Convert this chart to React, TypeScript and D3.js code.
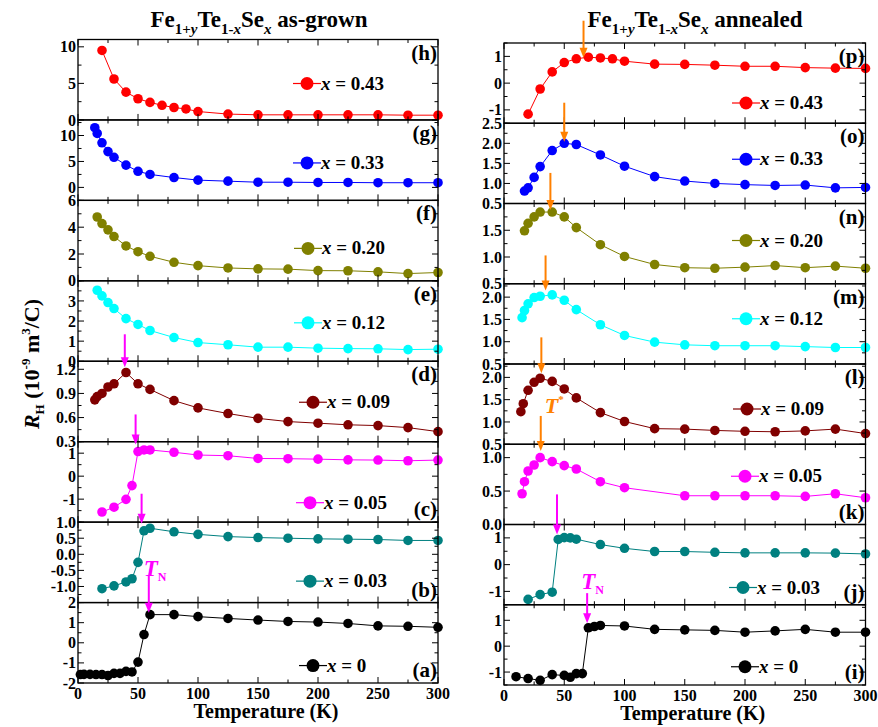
import React from "react";
import * as d3 from "d3";

const FONT = "\"Liberation Serif\", \"Times New Roman\", Tinos, \"Nimbus Roman\", Times, serif";

// ---------- as-grown (left column) ----------
const tempA = [2, 5, 10, 15, 20, 25, 30, 35, 40, 45, 50, 55, 60, 80, 100, 125, 150, 175, 200, 225, 250, 275, 300];
const rhA = [-1.58, -1.57, -1.57, -1.58, -1.58, -1.63, -1.52, -1.52, -1.42, -1.45, -0.96, 0.41, 1.4, 1.4, 1.3, 1.21, 1.13, 1.06, 1.03, 0.96, 0.84, 0.82, 0.77];
const tempB = [20, 30, 40, 45, 50, 55, 60, 80, 100, 125, 150, 175, 200, 225, 250, 275, 300];
const rhB = [-1.07, -0.98, -0.86, -0.76, -0.25, 0.73, 0.81, 0.7, 0.62, 0.55, 0.52, 0.5, 0.48, 0.47, 0.46, 0.43, 0.43];
const tempC = [20, 30, 40, 45, 50, 55, 60, 80, 100, 125, 150, 175, 200, 225, 250, 275, 300];
const rhC = [-1.56, -1.35, -1.01, -0.41, 1.07, 1.14, 1.14, 1.04, 0.92, 0.89, 0.77, 0.76, 0.74, 0.71, 0.7, 0.67, 0.7];
const tempD = [14, 16, 20, 25, 30, 40, 50, 60, 80, 100, 125, 150, 175, 200, 225, 250, 275, 300];
const rhD = [0.82, 0.86, 0.9, 0.98, 1.02, 1.16, 1.02, 0.95, 0.81, 0.72, 0.65, 0.59, 0.55, 0.53, 0.51, 0.5, 0.475, 0.425];
const tempE = [16, 20, 25, 30, 40, 50, 60, 80, 100, 125, 150, 175, 200, 225, 250, 275, 300];
const rhE = [3.53, 3.25, 2.92, 2.62, 2.12, 1.83, 1.53, 1.18, 0.93, 0.82, 0.7, 0.7, 0.65, 0.63, 0.62, 0.58, 0.6];
const tempF = [16, 20, 25, 30, 40, 50, 60, 80, 100, 125, 150, 175, 200, 225, 250, 275, 300];
const rhF = [4.76, 4.27, 3.8, 3.3, 2.6, 2.17, 1.83, 1.38, 1.13, 0.96, 0.89, 0.87, 0.76, 0.75, 0.67, 0.54, 0.62];
const tempG = [14, 16, 20, 25, 30, 40, 50, 60, 80, 100, 125, 150, 175, 200, 225, 250, 275, 300];
const rhG = [11.5, 10.4, 8.6, 6.9, 5.8, 4.3, 3.1, 2.5, 1.9, 1.4, 1.2, 1.0, 1.0, 0.95, 0.95, 0.9, 0.9, 0.9];
const tempH = [20, 30, 40, 50, 60, 70, 80, 90, 100, 125, 150, 175, 200, 225, 250, 275, 300];
const rhH = [9.5, 5.6, 3.8, 2.9, 2.4, 2.0, 1.7, 1.5, 1.15, 0.8, 0.7, 0.7, 0.7, 0.7, 0.7, 0.65, 0.65];

// ---------- annealed (right column) ----------
const tempI = [10, 20, 30, 40, 50, 55, 60, 65, 70, 75, 80, 100, 125, 150, 175, 200, 225, 250, 275, 300];
const rhI = [-1.18, -1.25, -1.32, -1.1, -1.13, -1.2, -1.06, -1.06, 0.71, 0.76, 0.8, 0.78, 0.65, 0.63, 0.61, 0.54, 0.59, 0.65, 0.54, 0.54];
const tempJ = [20, 30, 40, 45, 50, 55, 60, 80, 100, 125, 150, 175, 200, 225, 250, 275, 300];
const rhJ = [-1.3, -1.12, -1.03, 0.94, 1.01, 1.0, 0.95, 0.75, 0.61, 0.49, 0.49, 0.46, 0.44, 0.44, 0.44, 0.43, 0.4];
const tempK = [15, 17, 20, 25, 30, 40, 50, 60, 80, 100, 150, 175, 200, 225, 250, 275, 300];
const rhK = [0.46, 0.64, 0.8, 0.89, 1.0, 0.94, 0.88, 0.83, 0.64, 0.55, 0.43, 0.43, 0.43, 0.43, 0.42, 0.46, 0.4];
const tempL = [14, 16, 20, 25, 30, 40, 50, 60, 80, 100, 125, 150, 175, 200, 225, 250, 275, 300];
const rhL = [1.23, 1.41, 1.71, 1.89, 1.98, 1.91, 1.74, 1.54, 1.21, 1.01, 0.85, 0.84, 0.81, 0.79, 0.78, 0.8, 0.84, 0.74];
const tempM = [15, 17, 20, 25, 30, 40, 50, 60, 80, 100, 125, 150, 175, 200, 225, 250, 275, 300];
const rhM = [1.54, 1.7, 1.85, 1.99, 2.02, 2.05, 1.93, 1.72, 1.38, 1.14, 0.99, 0.93, 0.91, 0.91, 0.91, 0.89, 0.87, 0.87];
const tempN = [17, 20, 25, 30, 40, 50, 60, 80, 100, 125, 150, 175, 200, 225, 250, 275, 300];
const rhN = [1.49, 1.63, 1.75, 1.84, 1.84, 1.75, 1.55, 1.23, 1.01, 0.86, 0.8, 0.79, 0.81, 0.84, 0.8, 0.83, 0.79];
const tempO = [17, 20, 25, 30, 40, 50, 60, 80, 100, 125, 150, 175, 200, 225, 250, 275, 300];
const rhO = [0.81, 0.89, 1.15, 1.42, 1.82, 2.0, 1.97, 1.71, 1.43, 1.17, 1.06, 1.0, 0.97, 0.95, 0.96, 0.89, 0.9];
const tempP = [20, 30, 40, 50, 60, 70, 80, 90, 100, 125, 150, 175, 200, 225, 250, 275, 300];
const rhP = [-1.16, -0.22, 0.42, 0.77, 0.91, 0.97, 0.94, 0.91, 0.82, 0.71, 0.7, 0.67, 0.63, 0.63, 0.58, 0.56, 0.55];

const xTicks = [0, 50, 100, 150, 200, 250, 300];

const MAG = "#ff00ff";
const ORG = "#ff8000";

type Arrow = { T: number; tip: number; len: number; color: string; note?: "TN" | "TS" };
type Panel = {
  T: number[]; R: number[]; color: string; domain: [number, number]; ticks: number[];
  dec: number; x: string; letter: string; bottomLetter?: boolean; legDy: number; legDx?: number; arrow?: Arrow;
};

const leftPanels: Panel[] = [
  { T: tempH, R: rhH, color: "#ff0000", domain: [0, 11], ticks: [0, 5, 10], dec: 0, x: "0.43", letter: "(h)", legDy: 44, legDx: -2 },
  { T: tempG, R: rhG, color: "#0000ff", domain: [-2.5, 13], ticks: [0, 5, 10], dec: 0, x: "0.33", letter: "(g)", legDy: 43, legDx: -2 },
  { T: tempF, R: rhF, color: "#808000", domain: [0, 6], ticks: [0, 2, 4, 6], dec: 0, x: "0.20", letter: "(f)", legDy: 48, legDx: -1 },
  { T: tempE, R: rhE, color: "#00ffff", domain: [0, 4], ticks: [0, 1, 2, 3], dec: 0, x: "0.12", letter: "(e)", legDy: 42, legDx: -1 },
  { T: tempD, R: rhD, color: "#800000", domain: [0.3, 1.3], ticks: [0.3, 0.6, 0.9, 1.2], dec: 1, x: "0.09", letter: "(d)", legDy: 41, legDx: 4,
    arrow: { T: 39, tip: 1.225, len: 33, color: MAG } },
  { T: tempC, R: rhC, color: "#ff00ff", domain: [-2, 1.5], ticks: [-1, 0, 1], dec: 0, x: "0.05", letter: "(c)", bottomLetter: true, legDy: 61, legDx: 1,
    arrow: { T: 48, tip: 1.38, len: 30, color: MAG } },
  { T: tempB, R: rhB, color: "#008080", domain: [-1.5, 1.0], ticks: [-1, -0.5, 0, 0.5, 1], dec: 1, x: "0.03", letter: "(b)", bottomLetter: true, legDy: 59, legDx: 1,
    arrow: { T: 53, tip: 0.95, len: 30, color: MAG } },
  { T: tempA, R: rhA, color: "#000000", domain: [-2, 2], ticks: [-2, -1, 0, 1, 2], dec: 0, x: "0", letter: "(a)", bottomLetter: true, legDy: 63, legDx: 4,
    arrow: { T: 59, tip: 1.49, len: 37, color: MAG, note: "TN" } },
];

const rightPanels: Panel[] = [
  { T: tempP, R: rhP, color: "#ff0000", domain: [-1.5, 1.5], ticks: [-1, 0, 1], dec: 0, x: "0.43", letter: "(p)", legDy: 60,
    arrow: { T: 66, tip: 0.95, len: 37, color: ORG } },
  { T: tempO, R: rhO, color: "#0000ff", domain: [0.5, 2.5], ticks: [0.5, 1, 1.5, 2, 2.5], dec: 1, x: "0.33", letter: "(o)", legDy: 36,
    arrow: { T: 50, tip: 2.04, len: 39, color: ORG } },
  { T: tempN, R: rhN, color: "#808000", domain: [0.5, 2.0], ticks: [0.5, 1, 1.5], dec: 1, x: "0.20", letter: "(n)", legDy: 37,
    arrow: { T: 38.5, tip: 1.88, len: 37, color: ORG } },
  { T: tempM, R: rhM, color: "#00ffff", domain: [0.5, 2.3], ticks: [0.5, 1, 1.5, 2], dec: 1, x: "0.12", letter: "(m)", legDy: 35,
    arrow: { T: 34.5, tip: 2.15, len: 35, color: ORG } },
  { T: tempL, R: rhL, color: "#800000", domain: [0.5, 2.3], ticks: [0.5, 1, 1.5, 2], dec: 1, x: "0.09", letter: "(l)", legDy: 45, legDx: 1,
    arrow: { T: 31, tip: 2.09, len: 36, color: ORG } },
  { T: tempK, R: rhK, color: "#ff00ff", domain: [0, 1.2], ticks: [0, 0.5, 1], dec: 1, x: "0.05", letter: "(k)", bottomLetter: true, legDy: 32, legDx: -1,
    arrow: { T: 30.5, tip: 1.1, len: 35, color: ORG, note: "TS" } },
  { T: tempJ, R: rhJ, color: "#008080", domain: [-1.5, 1.5], ticks: [-1, 0, 1], dec: 0, x: "0.03", letter: "(j)", bottomLetter: true, legDy: 63, legDx: -3,
    arrow: { T: 44, tip: 1.13, len: 40, color: MAG } },
  { T: tempI, R: rhI, color: "#000000", domain: [-1.5, 1.6], ticks: [-1, 0, 1], dec: 0, x: "0", letter: "(i)", bottomLetter: true, legDy: 62, legDx: -1,
    arrow: { T: 69, tip: 0.89, len: 30, color: MAG, note: "TN" } },
];

type Col = { x0: number; x1: number; top: number; bottom: number; legX: number; panels: Panel[]; kind: string; titleX: number };

const columns: Col[] = [
  { x0: 78, x1: 438, top: 39.5, bottom: 683, legX: 309, panels: leftPanels, kind: "as-grown", titleX: 259 },
  { x0: 504, x1: 865.5, top: 43, bottom: 685, legX: 746, panels: rightPanels, kind: "annealed", titleX: 695 },
];

const ArrowMark = ({ x, y, len, color }: { x: number; y: number; len: number; color: string }) => (
  <g>
    <line x1={x} x2={x} y1={y - len} y2={y - 8} stroke={color} strokeWidth={2} />
    <path d={`M${x - 4},${y - 10}L${x + 4},${y - 10}L${x},${y}Z`} fill={color} />
  </g>
);

const Column = ({ col }: { col: Col }) => {
  const x = d3.scaleLinear().domain([0, 300]).range([col.x0, col.x1]);
  const ph = (col.bottom - col.top) / col.panels.length;
  const minorX = d3.range(0, 301, 25);
  return (
    <g>
      {col.panels.map((p, i) => {
        const top = col.top + i * ph;
        const bot = top + ph;
        const y = d3.scaleLinear().domain(p.domain).range([bot, top]);
        const step = p.ticks[1] - p.ticks[0];
        const half = step / 2;
        const minorY = d3
          .range(Math.ceil(p.domain[0] / half - 1e-6), Math.floor(p.domain[1] / half + 1e-6) + 1)
          .map((k) => k * half);
        const line = d3
          .line<number>()
          .x((_, k) => x(p.T[k]))
          .y((v) => y(v));
        const isLast = i === col.panels.length - 1;
        const a = p.arrow;
        const lx = col.legX + (p.legDx || 0);
        return (
          <g key={p.letter}>
            {/* data */}
            <path d={line(p.R) || ""} fill="none" stroke={p.color} strokeWidth={1} />
            {p.R.map((v, k) => (
              <circle key={k} cx={x(p.T[k])} cy={y(v)} r={4.8} fill={p.color} />
            ))}
            {/* frame */}
            <rect x={col.x0} y={top} width={col.x1 - col.x0} height={bot - top} fill="none" stroke="#000" strokeWidth={1.3} />
            {minorX.map((t) => {
              const L = t % 50 === 0 ? 6 : 3.5;
              return (
                <g key={"x" + t}>
                  <line x1={x(t)} x2={x(t)} y1={bot} y2={bot - L} stroke="#000" strokeWidth={1} />
                  <line x1={x(t)} x2={x(t)} y1={top} y2={top + L} stroke="#000" strokeWidth={1} />
                </g>
              );
            })}
            {minorY.map((v) => {
              const major = p.ticks.some((t) => Math.abs(t - v) < 1e-6);
              const L = major ? 6 : 3.5;
              return (
                <g key={"y" + v}>
                  <line x1={col.x0} x2={col.x0 + L} y1={y(v)} y2={y(v)} stroke="#000" strokeWidth={1} />
                  <line x1={col.x1} x2={col.x1 - L} y1={y(v)} y2={y(v)} stroke="#000" strokeWidth={1} />
                </g>
              );
            })}
            {p.ticks.map((t) => (
              <text key={"l" + t} x={col.x0 - 2} y={y(t)} dy="0.35em" textAnchor="end" fontSize={16} fontWeight="bold">
                {t.toFixed(p.dec)}
              </text>
            ))}
            {/* panel letter */}
            <text x={col.x1 - 1} y={p.bottomLetter ? bot - 6 : top + 20} textAnchor="end" fontSize={21} fontWeight="bold">
              {p.letter}
            </text>
            {/* legend */}
            <line x1={lx - 14} x2={lx + 14} y1={top + p.legDy} y2={top + p.legDy} stroke={p.color} strokeWidth={1.2} />
            <circle cx={lx} cy={top + p.legDy} r={6.5} fill={p.color} />
            <text x={lx + 14} y={top + p.legDy + 6} fontSize={19} fontWeight="bold">
              <tspan fontStyle="italic">x</tspan> = {p.x}
            </text>
            {/* arrow */}
            {a && <ArrowMark x={x(a.T)} y={y(a.tip)} len={a.len} color={a.color} />}
            {a && a.note === "TN" && (
              <text
                x={x(a.T) + (col.kind === "as-grown" ? -5 : -6)}
                y={y(a.tip) - a.len + (col.kind === "as-grown" ? 0 : -4)}
                fill={MAG}
                fontWeight="bold"
                fontSize={23}
              >
                <tspan fontStyle="italic">T</tspan>
                <tspan fontSize={12} dy={5}>N</tspan>
              </text>
            )}
            {a && a.note === "TS" && (
              <text x={x(a.T) + 4} y={y(a.tip) - a.len - 3} fill={ORG} fontWeight="bold" fontSize={22}>
                <tspan fontStyle="italic">T</tspan>
                <tspan fontSize={11} dy={-10}>*</tspan>
              </text>
            )}
            {/* bottom axis labels */}
            {isLast &&
              xTicks.map((t) => (
                <text key={"xl" + t} x={x(t)} y={bot + 16} textAnchor="middle" fontSize={16} fontWeight="bold">
                  {t}
                </text>
              ))}
          </g>
        );
      })}
      {/* title */}
      <text x={col.titleX} y={27} textAnchor="middle" fontSize={23} fontWeight="bold">
        Fe
        <tspan fontSize={15} dy={7}>1+</tspan>
        <tspan fontSize={15} fontStyle="italic">y</tspan>
        <tspan dy={-7}>Te</tspan>
        <tspan fontSize={15} dy={7}>1-</tspan>
        <tspan fontSize={15} fontStyle="italic">x</tspan>
        <tspan dy={-7}>Se</tspan>
        <tspan fontSize={15} fontStyle="italic" dy={7}>x</tspan>
        <tspan dy={-7}>{" " + col.kind}</tspan>
      </text>
      <text x={(col.x0 + col.x1) / 2 + 8} y={col.bottom + 35} textAnchor="middle" fontSize={20} fontWeight="bold">
        Temperature (K)
      </text>
    </g>
  );
};

export default function App() {
  return (
    <svg
      width={878}
      height={727}
      style={{ position: "absolute", left: 0, top: 0, background: "#fff", fontFamily: FONT }}
    >
      <rect width={878} height={727} fill="#fff" />
      {columns.map((c) => (
        <Column key={c.kind} col={c} />
      ))}
      <g transform="translate(39,364) rotate(-90)">
        <text textAnchor="middle" fontSize={22} fontWeight="bold">
          <tspan fontStyle="italic">R</tspan>
          <tspan fontSize={13} dy={5}>H</tspan>
          <tspan dy={-5}> (10</tspan>
          <tspan fontSize={13} dy={-9}>-9</tspan>
          <tspan dy={9}> m</tspan>
          <tspan fontSize={13} dy={-9}>3</tspan>
          <tspan dy={9}>/C)</tspan>
        </text>
      </g>
    </svg>
  );
}
